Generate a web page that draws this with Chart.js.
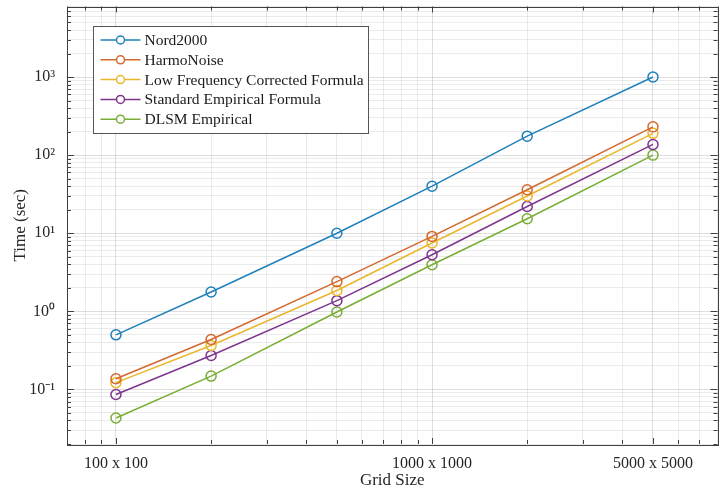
<!DOCTYPE html>
<html>
<head>
<meta charset="utf-8">
<script src="https://cdn.jsdelivr.net/npm/chart.js@4.4.1/dist/chart.umd.min.js"></script>
<style>
html, body { margin: 0; padding: 0; background: #fff; }
#wrap { width: 724px; height: 495px; }
</style>
</head>
<body>
<div id="wrap"><canvas id="chartTimp"></canvas></div>
<script>
// date
var gridSides = [100, 200, 500, 1000, 2000, 5000];
var gridLabels = ['100 x 100', '200 x 200', '500 x 500', '1000 x 1000', '2000 x 2000', '5000 x 5000'];
var xLabeled = [100, 1000, 5000];
var numeSerii = ['Nord2000', 'HarmoNoise', 'Low Frequency Corrected Formula', 'Standard Empirical Formula', 'DLSM Empirical'];
var nord2000 = [0.5, 1.77, 10, 40, 175, 1000];
var harmoNoise = [0.137, 0.435, 2.4, 9.1, 36, 230];
var lowFreq = [0.122, 0.365, 1.85, 7.5, 30, 190];
var standardEmp = [0.086, 0.272, 1.37, 5.3, 22, 137];
var dlsmEmp = [0.043, 0.148, 0.98, 3.95, 15.3, 100];
var yDecades = [0.1, 1, 10, 100, 1000];
var yDecadeLabels = ['10\u207B\u00B9', '10\u2070', '10\u00B9', '10\u00B2', '10\u00B3'];
var xMin = 70, xMax = 8000, yMin = 0.02, yMax = 8000;

var culori = ['#1F80BA', '#D5682F', '#EBB52C', '#7F3590', '#79AE36'];
var serii = [nord2000, harmoNoise, lowFreq, standardEmp, dlsmEmp];

function eDecada(v) {
    var l = Math.log10(v);
    return Math.abs(l - Math.round(l)) < 1e-9;
}

// ticks 1..9 x 10^n in interval
function ticksLog(min, max) {
    var rez = [];
    for (var e = Math.floor(Math.log10(min)); e <= Math.ceil(Math.log10(max)); e++) {
        for (var k = 1; k <= 9; k++) {
            var v = parseFloat((k * Math.pow(10, e)).toPrecision(6));
            if (v >= min - 1e-12 && v <= max + 1e-9) rez.push(v);
        }
    }
    return rez;
}

var datasets = [];
for (var i = 0; i < serii.length; i++) {
    var puncte = [];
    for (var j = 0; j < gridSides.length; j++) {
        puncte.push({ x: gridSides[j], y: serii[i][j] });
    }
    datasets.push({
        label: numeSerii[i],
        data: puncte,
        borderColor: culori[i],
        backgroundColor: 'rgba(0,0,0,0)',
        borderWidth: 1.5,
        pointRadius: 5,
        pointBorderWidth: 1.5,
        pointBackgroundColor: 'rgba(0,0,0,0)',
        pointBorderColor: culori[i],
        tension: 0
    });
}

var culoareAxa = '#404040';

var chenarPlugin = {
    id: 'chenar',
    afterDatasetsDraw: function (chart) {
        var ctx = chart.ctx, ca = chart.chartArea;
        ctx.save();
        ctx.strokeStyle = culoareAxa;
        ctx.lineWidth = 1;
        // ticks spre interior
        chart.scales.x.ticks.forEach(function (t) {
            var px = Math.round(chart.scales.x.getPixelForValue(t.value)) + 0.5;
            var len = xLabeled.indexOf(t.value) != -1 ? 6 : 4;
            ctx.beginPath();
            ctx.moveTo(px, ca.bottom); ctx.lineTo(px, ca.bottom - len);
            ctx.moveTo(px, ca.top); ctx.lineTo(px, ca.top + len);
            ctx.stroke();
        });
        chart.scales.y.ticks.forEach(function (t) {
            var py = Math.round(chart.scales.y.getPixelForValue(t.value)) + 0.5;
            var len = eDecada(t.value) ? 7 : 4;
            ctx.beginPath();
            ctx.moveTo(ca.left, py); ctx.lineTo(ca.left + len, py);
            ctx.moveTo(ca.right, py); ctx.lineTo(ca.right - len, py);
            ctx.stroke();
        });
        ctx.strokeRect(Math.round(ca.left) + 0.5, Math.round(ca.top) + 0.5,
            Math.round(ca.right - ca.left), Math.round(ca.bottom - ca.top));
        ctx.restore();
    }
};

var legendaPlugin = {
    id: 'legendaInterna',
    afterDraw: function (chart) {
        var ctx = chart.ctx, ca = chart.chartArea;
        var ds = chart.data.datasets;
        ctx.save();
        ctx.font = '15.5px "Liberation Serif"';
        var maxW = 0;
        for (var i = 0; i < ds.length; i++) maxW = Math.max(maxW, ctx.measureText(ds[i].label).width);
        var x0 = Math.round(ca.left) + 26.5, y0 = Math.round(ca.top) + 19.5;
        var rand = 19.8;
        var w = Math.round(51 + maxW + 5), h = Math.round(rand * ds.length + 8);
        ctx.fillStyle = '#fff';
        ctx.fillRect(x0, y0, w, h);
        ctx.strokeStyle = '#555';
        ctx.lineWidth = 1;
        ctx.strokeRect(x0, y0, w, h);
        ctx.textBaseline = 'middle';
        for (var i = 0; i < ds.length; i++) {
            var y = y0 + 13.5 + i * rand;
            ctx.strokeStyle = ds[i].borderColor;
            ctx.lineWidth = 1.5;
            ctx.beginPath();
            ctx.moveTo(x0 + 7, y); ctx.lineTo(x0 + 47, y);
            ctx.stroke();
            ctx.fillStyle = '#fff';
            ctx.beginPath();
            ctx.arc(x0 + 27, y, 4, 0, Math.PI * 2);
            ctx.fill();
            ctx.stroke();
            ctx.fillStyle = '#1a1a1a';
            ctx.fillText(ds[i].label, x0 + 51, y + 1);
        }
        ctx.restore();
    }
};

Chart.defaults.font.family = '"Liberation Serif", "Times New Roman", serif';
Chart.defaults.color = '#262626';

var ctx1 = document.getElementById('chartTimp').getContext('2d');
var chartTimp = new Chart(ctx1, {
    type: 'line',
    data: { datasets: datasets },
    plugins: [chenarPlugin, legendaPlugin],
    options: {
        responsive: true,
        maintainAspectRatio: false,
        animation: false,
        layout: { padding: { top: 6, right: 4, left: 0, bottom: 0 } },
        plugins: {
            legend: { display: false },
            tooltip: { enabled: false }
        },
        scales: {
            x: {
                type: 'logarithmic',
                min: xMin,
                max: xMax,
                afterBuildTicks: function (scale) {
                    scale.ticks = ticksLog(xMin, xMax).map(function (v) {
                        return { value: v, major: xLabeled.indexOf(v) != -1 };
                    });
                },
                afterFit: function (scale) {
                    scale.height = 51;
                    scale.paddingLeft = 0;
                    scale.paddingRight = 0;
                },
                grid: {
                    drawTicks: false,
                    color: function (c) {
                        return c.tick && c.tick.major ? 'rgba(0,0,0,0.13)' : 'rgba(0,0,0,0.08)';
                    }
                },
                border: { display: false },
                ticks: {
                    autoSkip: false,
                    maxRotation: 0,
                    padding: 10,
                    font: { size: 16 },
                    callback: function (value) {
                        var k = gridSides.indexOf(value);
                        if (k != -1 && xLabeled.indexOf(value) != -1) return gridLabels[k];
                        return '';
                    }
                },
                title: {
                    display: true,
                    text: 'Grid Size',
                    font: { size: 17 },
                    padding: { top: 0, bottom: 4 }
                }
            },
            y: {
                type: 'logarithmic',
                min: yMin,
                max: yMax,
                afterBuildTicks: function (scale) {
                    scale.ticks = ticksLog(yMin, yMax).map(function (v) {
                        return { value: v, major: eDecada(v) };
                    });
                },
                afterFit: function (scale) {
                    scale.width = 67;
                    scale.paddingTop = 0;
                    scale.paddingBottom = 0;
                },
                grid: {
                    drawTicks: false,
                    color: function (c) {
                        return c.tick && c.tick.major ? 'rgba(0,0,0,0.13)' : 'rgba(0,0,0,0.08)';
                    }
                },
                border: { display: false },
                ticks: {
                    autoSkip: false,
                    padding: 12,
                    font: { size: 16 },
                    callback: function (value) {
                        for (var i = 0; i < yDecades.length; i++)
                            if (Math.abs(value - yDecades[i]) < 1e-9 * yDecades[i]) return yDecadeLabels[i];
                        return '';
                    }
                },
                title: {
                    display: true,
                    text: 'Time (sec)',
                    font: { size: 17 },
                    padding: { top: 10, bottom: 0 }
                }
            }
        }
    }
});
</script>
</body>
</html>
